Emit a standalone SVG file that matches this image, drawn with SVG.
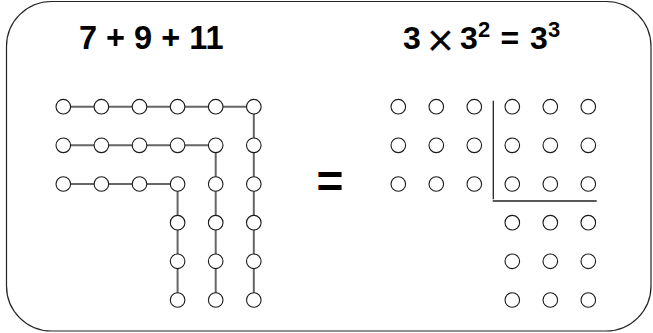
<svg xmlns="http://www.w3.org/2000/svg" width="653" height="333" viewBox="0 0 653 333">
<style>
.dot{fill:#fff;stroke:#1a1a1a;stroke-width:1.1}
.lnk{stroke:#666;stroke-width:2;fill:none}
.div{stroke:#222;stroke-width:1.3;fill:none}
.t{font-family:"Liberation Sans",Arial,sans-serif;font-weight:bold;fill:#000}
.tx{font-family:"Liberation Sans",Arial,sans-serif;font-weight:normal;fill:#000}
</style>
<rect x="6.5" y="1.5" width="644.5" height="329.5" rx="45" ry="45" fill="#fff" stroke="#222" stroke-width="1.2"/>
<g id="titles">
<text class="t" x="79" y="49.3" font-size="32.5">7 + 9 + 11</text>
<text class="t" x="403" y="48.5" font-size="32">3</text>
<text class="tx" x="440.5" y="56" font-size="46" text-anchor="middle">×</text>
<text class="t" x="460" y="48.5" font-size="32">3</text>
<text class="t" x="478" y="36.7" font-size="22">2</text>
<text class="t" x="500.5" y="48.5" font-size="32">=</text>
<text class="t" x="530" y="48.5" font-size="32">3</text>
<text class="t" x="548" y="36.7" font-size="22">3</text>
<text class="t" x="330" y="196.5" font-size="46" text-anchor="middle">=</text>
</g>
<g id="connectors">
<path class="lnk" d="M63.3 106.7H253.8V300"/>
<path class="lnk" d="M63.3 145.35H215.7V300"/>
<path class="lnk" d="M63.3 184H177.6V300"/>
<path class="div" d="M493.3 100.7V199.3M492.7 201H596.7"/>
</g>
<g id="L1">
<g id="L1-1"><circle class="dot" cx="63.3" cy="106.7" r="7.3"/></g>
<g id="L1-2"><circle class="dot" cx="101.4" cy="106.7" r="7.3"/></g>
<g id="L1-3"><circle class="dot" cx="139.5" cy="106.7" r="7.3"/></g>
<g id="L1-4"><circle class="dot" cx="177.6" cy="106.7" r="7.3"/></g>
<g id="L1-5"><circle class="dot" cx="215.7" cy="106.7" r="7.3"/></g>
<g id="L1-6"><circle class="dot" cx="253.8" cy="106.7" r="7.3"/></g>
<g id="L1-7"><circle class="dot" cx="253.8" cy="145.35" r="7.3"/></g>
<g id="L1-8"><circle class="dot" cx="253.8" cy="184" r="7.3"/></g>
<g id="L1-9"><circle class="dot" cx="253.8" cy="222.65" r="7.3"/></g>
<g id="L1-10"><circle class="dot" cx="253.8" cy="261.3" r="7.3"/></g>
<g id="L1-11"><circle class="dot" cx="253.8" cy="300" r="7.3"/></g>
</g>
<g id="L2">
<g id="L2-1"><circle class="dot" cx="63.3" cy="145.35" r="7.3"/></g>
<g id="L2-2"><circle class="dot" cx="101.4" cy="145.35" r="7.3"/></g>
<g id="L2-3"><circle class="dot" cx="139.5" cy="145.35" r="7.3"/></g>
<g id="L2-4"><circle class="dot" cx="177.6" cy="145.35" r="7.3"/></g>
<g id="L2-5"><circle class="dot" cx="215.7" cy="145.35" r="7.3"/></g>
<g id="L2-6"><circle class="dot" cx="215.7" cy="184" r="7.3"/></g>
<g id="L2-7"><circle class="dot" cx="215.7" cy="222.65" r="7.3"/></g>
<g id="L2-8"><circle class="dot" cx="215.7" cy="261.3" r="7.3"/></g>
<g id="L2-9"><circle class="dot" cx="215.7" cy="300" r="7.3"/></g>
</g>
<g id="L3">
<g id="L3-1"><circle class="dot" cx="63.3" cy="184" r="7.3"/></g>
<g id="L3-2"><circle class="dot" cx="101.4" cy="184" r="7.3"/></g>
<g id="L3-3"><circle class="dot" cx="139.5" cy="184" r="7.3"/></g>
<g id="L3-4"><circle class="dot" cx="177.6" cy="184" r="7.3"/></g>
<g id="L3-5"><circle class="dot" cx="177.6" cy="222.65" r="7.3"/></g>
<g id="L3-6"><circle class="dot" cx="177.6" cy="261.3" r="7.3"/></g>
<g id="L3-7"><circle class="dot" cx="177.6" cy="300" r="7.3"/></g>
</g>
<g id="R">
<g id="R-r1c1"><circle class="dot" cx="398.3" cy="106.7" r="7.3"/></g>
<g id="R-r1c2"><circle class="dot" cx="436.3" cy="106.7" r="7.3"/></g>
<g id="R-r1c3"><circle class="dot" cx="474.3" cy="106.7" r="7.3"/></g>
<g id="R-r1c4"><circle class="dot" cx="512.3" cy="106.7" r="7.3"/></g>
<g id="R-r1c5"><circle class="dot" cx="550.3" cy="106.7" r="7.3"/></g>
<g id="R-r1c6"><circle class="dot" cx="588.3" cy="106.7" r="7.3"/></g>
<g id="R-r2c1"><circle class="dot" cx="398.3" cy="145.35" r="7.3"/></g>
<g id="R-r2c2"><circle class="dot" cx="436.3" cy="145.35" r="7.3"/></g>
<g id="R-r2c3"><circle class="dot" cx="474.3" cy="145.35" r="7.3"/></g>
<g id="R-r2c4"><circle class="dot" cx="512.3" cy="145.35" r="7.3"/></g>
<g id="R-r2c5"><circle class="dot" cx="550.3" cy="145.35" r="7.3"/></g>
<g id="R-r2c6"><circle class="dot" cx="588.3" cy="145.35" r="7.3"/></g>
<g id="R-r3c1"><circle class="dot" cx="398.3" cy="184" r="7.3"/></g>
<g id="R-r3c2"><circle class="dot" cx="436.3" cy="184" r="7.3"/></g>
<g id="R-r3c3"><circle class="dot" cx="474.3" cy="184" r="7.3"/></g>
<g id="R-r3c4"><circle class="dot" cx="512.3" cy="184" r="7.3"/></g>
<g id="R-r3c5"><circle class="dot" cx="550.3" cy="184" r="7.3"/></g>
<g id="R-r3c6"><circle class="dot" cx="588.3" cy="184" r="7.3"/></g>
<g id="R-r4c4"><circle class="dot" cx="512.3" cy="222.65" r="7.3"/></g>
<g id="R-r4c5"><circle class="dot" cx="550.3" cy="222.65" r="7.3"/></g>
<g id="R-r4c6"><circle class="dot" cx="588.3" cy="222.65" r="7.3"/></g>
<g id="R-r5c4"><circle class="dot" cx="512.3" cy="261.3" r="7.3"/></g>
<g id="R-r5c5"><circle class="dot" cx="550.3" cy="261.3" r="7.3"/></g>
<g id="R-r5c6"><circle class="dot" cx="588.3" cy="261.3" r="7.3"/></g>
<g id="R-r6c4"><circle class="dot" cx="512.3" cy="300" r="7.3"/></g>
<g id="R-r6c5"><circle class="dot" cx="550.3" cy="300" r="7.3"/></g>
<g id="R-r6c6"><circle class="dot" cx="588.3" cy="300" r="7.3"/></g>
</g>
</svg>
